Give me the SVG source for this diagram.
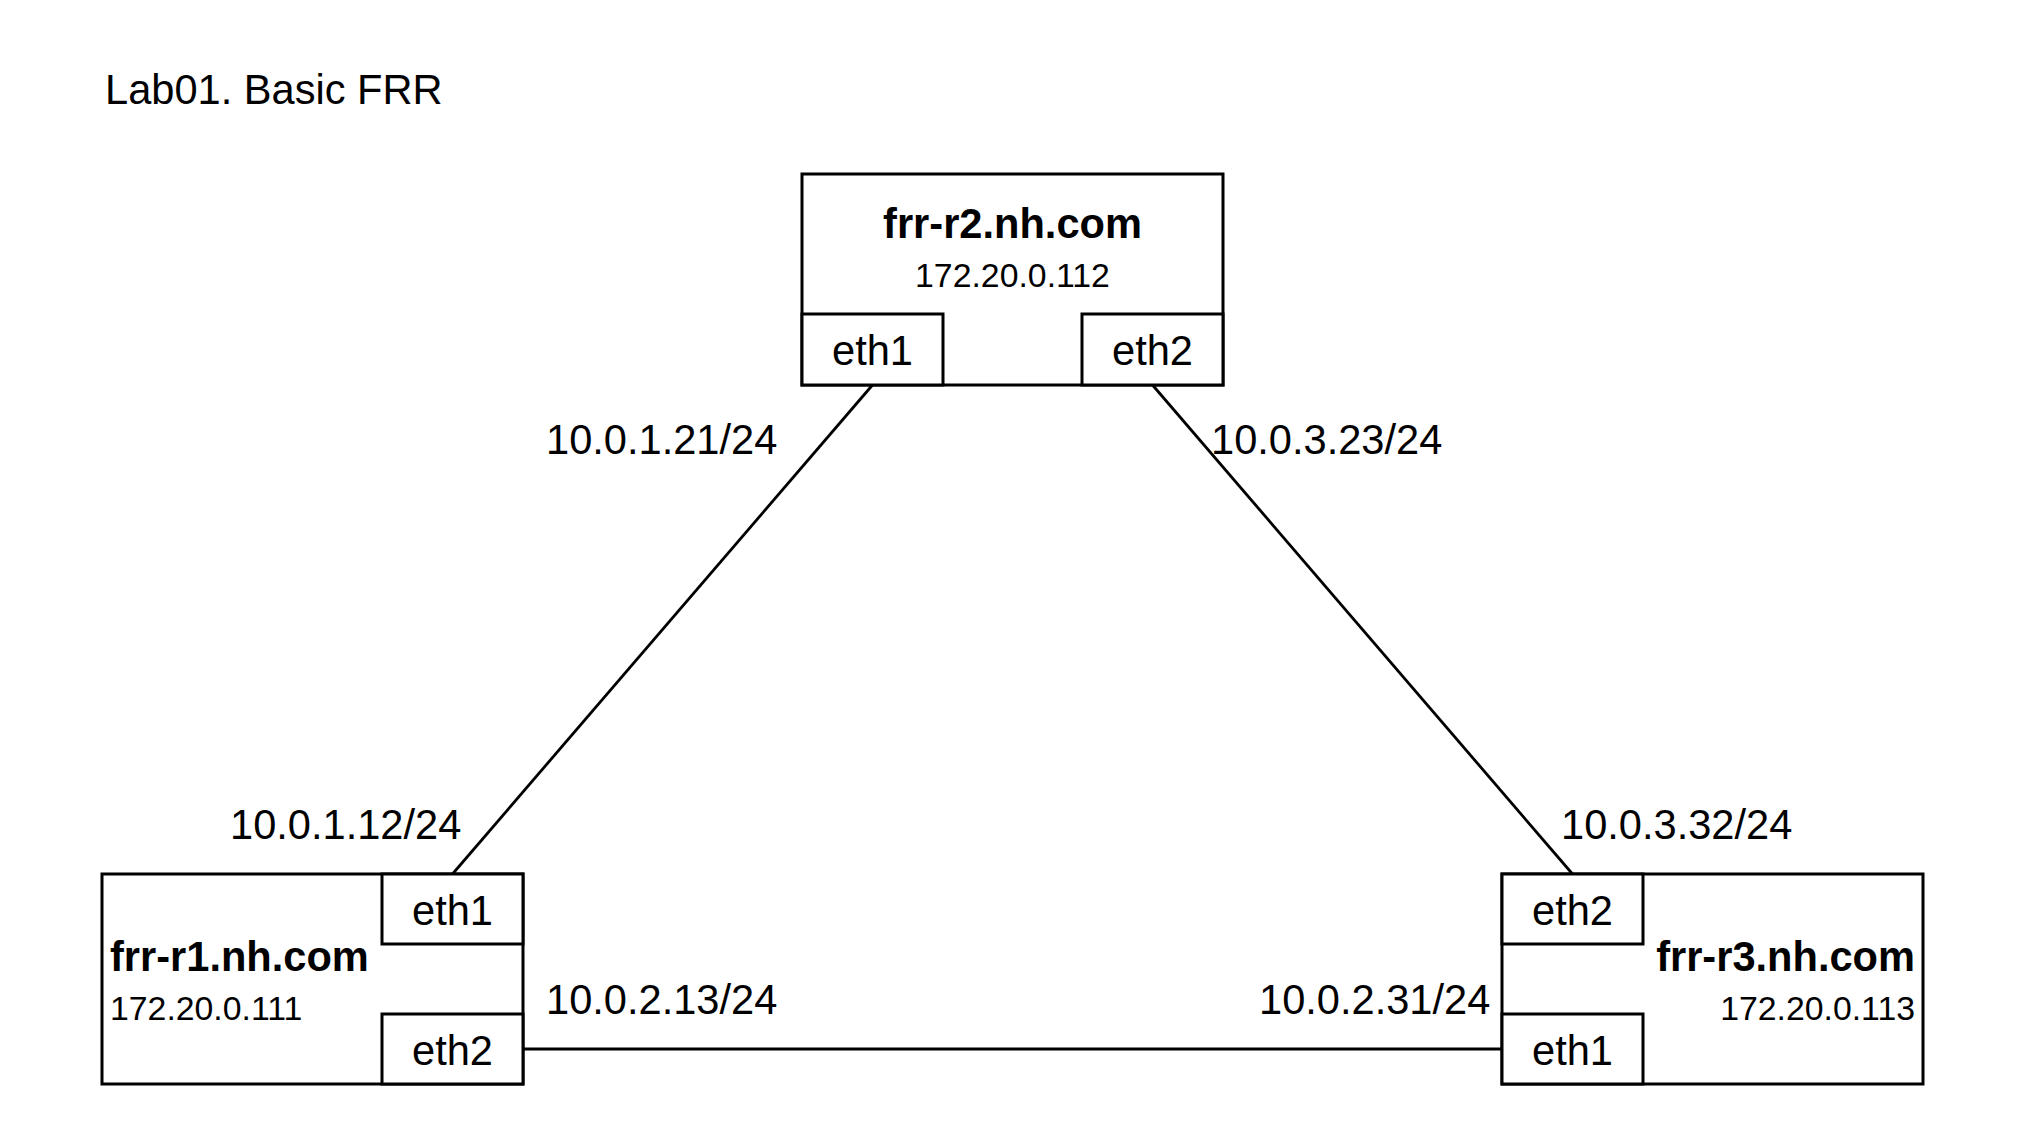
<svg xmlns="http://www.w3.org/2000/svg" width="2032" height="1136" viewBox="0 0 2032 1136">
<style>
text{font-family:"Liberation Sans",Arial,Helvetica,sans-serif;fill:#000}
.box{fill:#fff;stroke:#000;stroke-width:3}
.link{stroke:#000;stroke-width:2.8;fill:none}
.big{font-size:41.6px}
.bold{font-size:41.6px;font-weight:bold}
.ip{font-size:33.8px}
.c{text-anchor:middle}
.e{text-anchor:end}
</style>
<rect width="2032" height="1136" fill="#fff"/>
<text id="title" class="big" x="105" y="104">Lab01. Basic FRR</text>
<g id="connectors">
<line class="link" x1="872.5" y1="385" x2="452.5" y2="874"/>
<line class="link" x1="1152.5" y1="385" x2="1572.5" y2="874"/>
<line class="link" x1="523" y1="1049" x2="1502" y2="1049"/>
</g>
<g id="labels">
<text class="big" x="546" y="454">10.0.1.21/24</text>
<text class="big" x="1211" y="454">10.0.3.23/24</text>
<text class="big" x="230" y="839">10.0.1.12/24</text>
<text class="big" x="1561" y="839">10.0.3.32/24</text>
<text class="big" x="546" y="1014">10.0.2.13/24</text>
<text class="big" x="1259" y="1014">10.0.2.31/24</text>
</g>
<g id="frr-r2">
<rect class="box" x="802" y="174" width="421" height="211"/>
<text class="bold c" x="1012.5" y="238">frr-r2.nh.com</text>
<text class="ip c" x="1012.5" y="287">172.20.0.112</text>
<rect class="box" x="802" y="314" width="141" height="71"/>
<text class="big c" x="872.5" y="365">eth1</text>
<rect class="box" x="1082" y="314" width="141" height="71"/>
<text class="big c" x="1152.5" y="365">eth2</text>
</g>
<g id="frr-r1">
<rect class="box" x="102" y="874" width="421" height="210"/>
<text class="bold" x="110" y="971">frr-r1.nh.com</text>
<text class="ip" x="110" y="1020">172.20.0.111</text>
<rect class="box" x="382" y="874" width="141" height="70"/>
<text class="big c" x="452.5" y="924.5">eth1</text>
<rect class="box" x="382" y="1014" width="141" height="70"/>
<text class="big c" x="452.5" y="1064.5">eth2</text>
</g>
<g id="frr-r3">
<rect class="box" x="1502" y="874" width="421" height="210"/>
<text class="bold e" x="1915" y="971">frr-r3.nh.com</text>
<text class="ip e" x="1915" y="1020">172.20.0.113</text>
<rect class="box" x="1502" y="874" width="141" height="70"/>
<text class="big c" x="1572.5" y="924.5">eth2</text>
<rect class="box" x="1502" y="1014" width="141" height="70"/>
<text class="big c" x="1572.5" y="1064.5">eth1</text>
</g>
</svg>
